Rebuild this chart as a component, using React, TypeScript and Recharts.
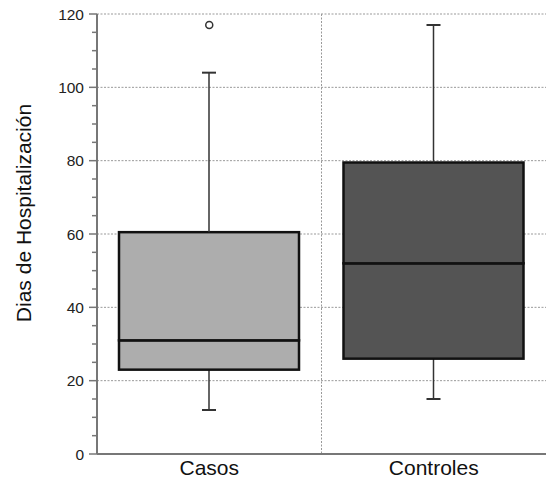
import React from 'react';
import { ComposedChart, Bar, Line, XAxis, YAxis, CartesianGrid, Label } from 'recharts';

const categories = ['Casos', 'Controles'];
const whiskerLow = [12, 15];
const q1 = [23, 26];
const median = [31, 52];
const q3 = [60.5, 79.5];
const whiskerHigh = [104, 117];
const outliers: (number | null)[] = [117, null];
const majorTicks = [0, 20, 40, 60, 80, 100, 120];
const minorTicks = [5, 10, 15, 25, 30, 35, 45, 50, 55, 65, 70, 75, 85, 90, 95, 105, 110, 115];
const allTicks = [...majorTicks, ...minorTicks].sort((a, b) => a - b);

const FILLS = ['#adadad', '#545454'];
const AXIS = '#777';
const WHISK = '#333';
const BOXSTROKE = '#111';
const CAP = 7;
const TICK_SIZE = 8;
const TICK_MARGIN = 5;
const FONT = '"Liberation Sans", Arial, Helvetica, sans-serif';

const data = categories.map((name, i) => ({
  name,
  base: whiskerLow[i],
  lowWhisker: q1[i] - whiskerLow[i],
  lowerBox: median[i] - q1[i],
  upperBox: q3[i] - median[i],
  highWhisker: whiskerHigh[i] - q3[i],
  outlier: outliers[i],
}));

const LowWhiskerShape = (p: any) => {
  const cx = p.x + p.width / 2;
  const yb = p.y + p.height;
  return (
    <g>
      <line x1={cx} x2={cx} y1={p.y} y2={yb} stroke={WHISK} strokeWidth={1.5} />
      <line x1={cx - CAP} x2={cx + CAP} y1={yb} y2={yb} stroke={WHISK} strokeWidth={2} />
    </g>
  );
};

const HighWhiskerShape = (p: any) => {
  const cx = p.x + p.width / 2;
  const yb = p.y + p.height;
  return (
    <g>
      <line x1={cx} x2={cx} y1={p.y} y2={yb} stroke={WHISK} strokeWidth={1.5} />
      <line x1={cx - CAP} x2={cx + CAP} y1={p.y} y2={p.y} stroke={WHISK} strokeWidth={2} />
    </g>
  );
};

const BoxShape = (p: any) => (
  <rect
    x={p.x}
    y={p.y}
    width={p.width}
    height={p.height}
    fill={FILLS[p.index] ?? '#999'}
    stroke={BOXSTROKE}
    strokeWidth={2.5}
  />
);

const LeftTick = (p: any) => {
  const v = p.payload.value;
  const major = majorTicks.includes(v);
  const ax = p.x + TICK_SIZE + TICK_MARGIN;
  return (
    <g>
      <line x1={ax} x2={ax - (major ? TICK_SIZE : 5)} y1={p.y} y2={p.y} stroke={AXIS} strokeWidth={1.5} />
      {major && (
        <text x={p.x} y={p.y} dy="0.36em" textAnchor="end" fontSize={15.5} fill="#222" fontFamily={FONT}>
          {v}
        </text>
      )}
    </g>
  );
};

const RightTick = (p: any) => {
  const v = p.payload.value;
  const major = majorTicks.includes(v);
  return (
    <line x1={p.x} x2={p.x - (major ? TICK_SIZE : 5)} y1={p.y} y2={p.y} stroke={AXIS} strokeWidth={1.5} />
  );
};

const YLabel = (p: any) => {
  const vb = p.viewBox;
  const cx = vb.x + 15;
  const cy = vb.y + vb.height / 2 - 21;
  return (
    <text
      x={cx}
      y={cy}
      transform={`rotate(-90 ${cx} ${cy})`}
      textAnchor="middle"
      dominantBaseline="central"
      fontSize={21}
      fill="#111"
      fontFamily={FONT}
    >
      Dias de Hospitalización
    </text>
  );
};

const verticalGen = (props: any) => {
  const o = props && props.offset;
  if (!o) return [];
  return [o.left + o.width / 2];
};

export default function App() {
  return (
    <div style={{ position: 'absolute', left: 0, top: 0, fontFamily: FONT, background: '#fff' }}>
      <ComposedChart
        width={554}
        height={478}
        data={data}
        margin={{ top: 14, right: 8, left: 8, bottom: 0 }}
      >
        <CartesianGrid
          yAxisId="left"
          stroke="#999"
          strokeDasharray="2 1.5"
          horizontalValues={majorTicks}
          verticalCoordinatesGenerator={verticalGen}
        />
        <XAxis
          dataKey="name"
          height={24}
          axisLine={{ stroke: AXIS, strokeWidth: 2 }}
          tickLine={false}
          tickSize={0}
          tickMargin={6}
          tick={{ fontSize: 21, fill: '#111' }}
        />
        <XAxis
          xAxisId="top"
          dataKey="name"
          orientation="top"
          height={0}
          tick={false}
          tickLine={false}
          axisLine={{ stroke: AXIS, strokeWidth: 1.5 }}
        />
        <YAxis
          yAxisId="left"
          domain={[0, 120]}
          ticks={allTicks}
          interval={0}
          width={89}
          tickSize={TICK_SIZE}
          tickMargin={TICK_MARGIN}
          tickLine={false}
          tick={<LeftTick />}
          axisLine={{ stroke: AXIS, strokeWidth: 2 }}
        >
          <Label content={<YLabel />} />
        </YAxis>
        <YAxis
          yAxisId="right"
          orientation="right"
          domain={[0, 120]}
          ticks={allTicks}
          interval={0}
          width={0}
          tickSize={0}
          tickMargin={0}
          tickLine={false}
          tick={<RightTick />}
          axisLine={{ stroke: AXIS, strokeWidth: 2 }}
        />
        <Bar yAxisId="left" dataKey="base" stackId="box" fill="none" barSize={180} isAnimationActive={false} />
        <Bar yAxisId="left" dataKey="lowWhisker" stackId="box" barSize={180} shape={<LowWhiskerShape />} isAnimationActive={false} />
        <Bar yAxisId="left" dataKey="lowerBox" stackId="box" barSize={180} shape={<BoxShape />} isAnimationActive={false} />
        <Bar yAxisId="left" dataKey="upperBox" stackId="box" barSize={180} shape={<BoxShape />} isAnimationActive={false} />
        <Bar yAxisId="left" dataKey="highWhisker" stackId="box" barSize={180} shape={<HighWhiskerShape />} isAnimationActive={false} />
        <Line
          yAxisId="left"
          dataKey="outlier"
          stroke="none"
          dot={{ r: 3.5, fill: '#fff', stroke: '#333', strokeWidth: 1.5 }}
          activeDot={false}
          isAnimationActive={false}
        />
      </ComposedChart>
    </div>
  );
}
